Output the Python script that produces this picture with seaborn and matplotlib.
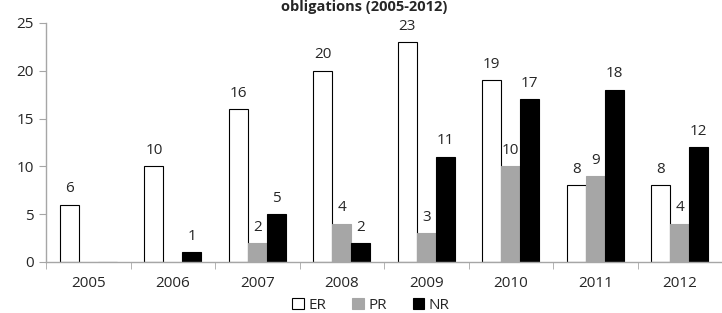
import pandas as pd
import matplotlib
matplotlib.use("Agg")
import matplotlib.pyplot as plt
import seaborn as sns

years = ["2005", "2006", "2007", "2008", "2009", "2010", "2011", "2012"]
er = [6, 10, 16, 20, 23, 19, 8, 8]
pr = [0, 0, 2, 4, 3, 10, 9, 4]
nr = [0, 1, 5, 2, 11, 17, 18, 12]
series = ["ER", "PR", "NR"]
colors = {"ER": "#FFFFFF", "PR": "#A6A6A6", "NR": "#000000"}

df = pd.DataFrame({"Year": years * 3,
                   "Type": ["ER"] * 8 + ["PR"] * 8 + ["NR"] * 8,
                   "Count": er + pr + nr})

sns.set_style("white")
plt.rcParams["font.family"] = ["Open Sans", "DejaVu Sans"]

fig = plt.figure(figsize=(7.22, 3.13), dpi=100)
ax = fig.add_axes([0.064, 0.163, 0.936, 0.764])

sns.barplot(data=df, x="Year", y="Count", hue="Type", hue_order=series,
            palette=colors, width=0.675, gap=0, ax=ax, legend=False,
            edgecolor="black", linewidth=0.8)

for bars, name in zip(ax.containers, series):
    if name == "PR":
        for b in bars:
            b.set_edgecolor("#A6A6A6")
    labels = [f"{int(v)}" if v > 0 else "" for v in bars.datavalues]
    ax.bar_label(bars, labels=labels, padding=6, fontsize=11, color="#262626")

ax.set_ylim(0, 25)
ax.set_yticks(range(0, 26, 5))
ax.set_xlim(-0.5, 7.5)
ax.set_xlabel("")
ax.set_ylabel("")
ax.set_xticks([i - 0.5 for i in range(9)], minor=True)
ax.tick_params(axis="x", which="major", length=0, labelsize=11, pad=10, colors="#262626")
ax.tick_params(axis="x", which="minor", length=5, color="#A6A6A6", direction="out", bottom=True)
ax.tick_params(axis="y", length=5, color="#A6A6A6", direction="out", labelsize=11,
               labelcolor="#262626", pad=4, left=True)
for s in ["top", "right"]:
    ax.spines[s].set_visible(False)
for s in ["left", "bottom"]:
    ax.spines[s].set_color("#A6A6A6")
    ax.spines[s].set_linewidth(1)

handles = [plt.Rectangle((0, 0), 1, 1, facecolor=colors[n],
                         edgecolor="black" if n != "PR" else "#A6A6A6", linewidth=0.8)
           for n in series]
fig.legend(handles, series, loc="center", bbox_to_anchor=(0.514, 0.024), ncol=3,
           frameon=False, fontsize=11, handlelength=0.75, handleheight=0.75,
           handletextpad=0.3, columnspacing=1.7, borderpad=0, borderaxespad=0)

fig.text(0.505, 1.0, "obligations (2005-2012)", ha="center", va="top",
         fontsize=10.5, fontweight="bold", color="#262626")

fig.savefig("out.png", dpi=100)
